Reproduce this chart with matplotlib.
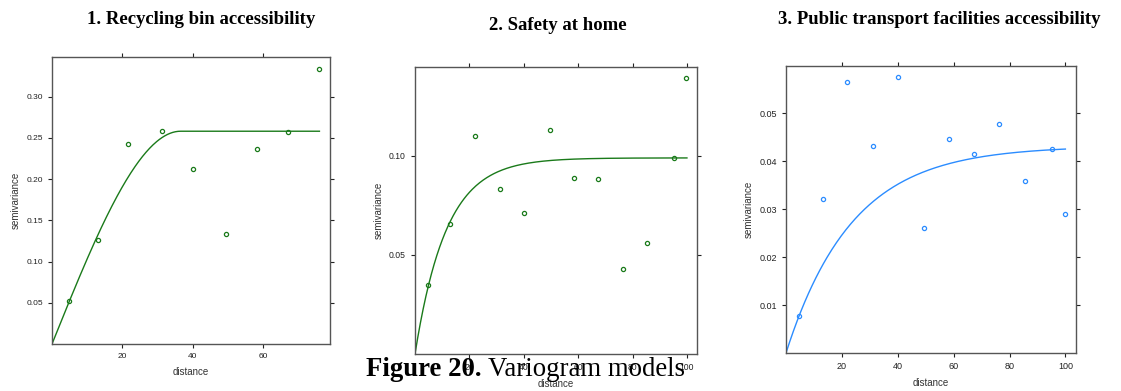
import numpy as np
import matplotlib.pyplot as plt

# Данные: эмпирические вариограммы (distance, semivariance)
dist1 = [4.9, 13.1, 21.6, 31.2, 40.0, 49.5, 58.3, 66.9, 75.7]
gamma1 = [0.052, 0.1255, 0.243, 0.258, 0.212, 0.133, 0.237, 0.257, 0.334]

dist2 = [4.8, 13.0, 21.9, 31.3, 40.2, 49.5, 58.5, 67.2, 76.4, 85.4, 95.1, 99.8]
gamma2 = [0.0346, 0.0655, 0.110, 0.0831, 0.0712, 0.1128, 0.0888, 0.0884,
          0.0428, 0.0558, 0.099, 0.139]

dist3 = [4.7, 13.1, 21.8, 31.3, 40.2, 49.5, 58.4, 67.2, 76.4, 85.4, 95.1, 99.7]
gamma3 = [0.0078, 0.0321, 0.0566, 0.0431, 0.0575, 0.026, 0.0446, 0.0415,
          0.0478, 0.0358, 0.0426, 0.029]

# Параметры моделей вариограмм (sill, range)
sph1_sill, sph1_range, max1 = 0.258, 36.5, 75.9
exp2_sill, exp2_range, max2 = 0.0988, 11.5, 100.0
exp3_sill, exp3_range, max3 = 0.0432, 23.7, 100.0

titles = ['1. Recycling bin accessibility', '2. Safety at home',
          '3. Public transport facilities accessibility']
yticks1 = [0.05, 0.10, 0.15, 0.20, 0.25, 0.30]
yticks2 = [0.05, 0.10]
yticks3 = [0.01, 0.02, 0.03, 0.04, 0.05]
xticks1 = [20, 40, 60]
xticks23 = [20, 40, 60, 80, 100]


def spherical(h, sill, a):
    h = np.asarray(h)
    return np.where(h < a, sill * (1.5 * h / a - 0.5 * (h / a) ** 3), sill)


def exponential(h, sill, a):
    return sill * (1 - np.exp(-np.asarray(h) / a))


fig = plt.figure(figsize=(11.21, 3.91), dpi=100)
W, H = 1121, 391

# позиции осей в пикселях: left, top, right, bottom
boxes = [(52, 57, 330, 344), (415, 67, 697, 354), (786, 66, 1076, 353)]
axes = []
for l, t, r, b in boxes:
    axes.append(fig.add_axes([l / W, 1 - b / H, (r - l) / W, (b - t) / H]))

green = '#1a7a1a'
blue = '#2b8cff'
sans = 'Liberation Sans'

h1 = np.linspace(0, max1, 300)
h2 = np.linspace(0, max2, 300)
h3 = np.linspace(0, max3, 300)

specs = [
    (axes[0], dist1, gamma1, h1, spherical(h1, sph1_sill, sph1_range), green,
     (0, 78.9), (0, 0.348), xticks1, yticks1, 6.0),
    (axes[1], dist2, gamma2, h2, exponential(h2, exp2_sill, exp2_range), green,
     (0, 103.7), (0, 0.1446), xticks23, yticks2, 6.2),
    (axes[2], dist3, gamma3, h3, exponential(h3, exp3_sill, exp3_range), blue,
     (0, 103.8), (0, 0.0599), xticks23, yticks3, 6.5),
]

for ax, x, y, hx, hy, col, xl, yl, xt, yt, fs in specs:
    ax.plot(hx, hy, color=col, lw=1.0)
    ax.plot(x, y, 'o', mfc='none', mec=col, ms=3.0, mew=0.9)
    ax.set_xlim(*xl)
    ax.set_ylim(*yl)
    ax.set_xticks(xt)
    ax.set_yticks(yt)
    ax.set_xticklabels([str(v) for v in xt], family=sans)
    ax.set_yticklabels(['%.2f' % v for v in yt], family=sans)
    ax.tick_params(axis='both', which='both', direction='out', length=3,
                   width=0.8, labelsize=fs, colors='#222222',
                   top=True, right=True, labeltop=False, labelright=False)
    for s in ax.spines.values():
        s.set_color('#555555')
        s.set_linewidth(1.0)
    ax.set_xlabel('distance', fontsize=7, color='#333333', labelpad=5,
                  family=sans)
    ax.set_ylabel('semivariance', fontsize=7, color='#333333', labelpad=4,
                  family=sans)

serif = 'Liberation Serif'
fig.text(201 / W, 1 - 20 / H, titles[0], ha='center', va='center',
         fontsize=13.5, fontweight='bold', family=serif)
fig.text(558 / W, 1 - 26 / H, titles[1], ha='center', va='center',
         fontsize=13.5, fontweight='bold', family=serif)
fig.text(939 / W, 1 - 20 / H, titles[2], ha='center', va='center',
         fontsize=13.5, fontweight='bold', family=serif)

# подпись рисунка поверх второго графика
cap1 = fig.text(366 / W, 1 - 370 / H, 'Figure 20.', ha='left', va='center',
                fontsize=19.3, fontweight='bold', family=serif, zorder=10)
fig.canvas.draw()
bb = cap1.get_window_extent()
fig.text(bb.x1 / W + 7 / W, 1 - 370 / H, 'Variogram models', ha='left',
         va='center', fontsize=19.3, family=serif, zorder=10)

fig.savefig('out.png', dpi=100)
